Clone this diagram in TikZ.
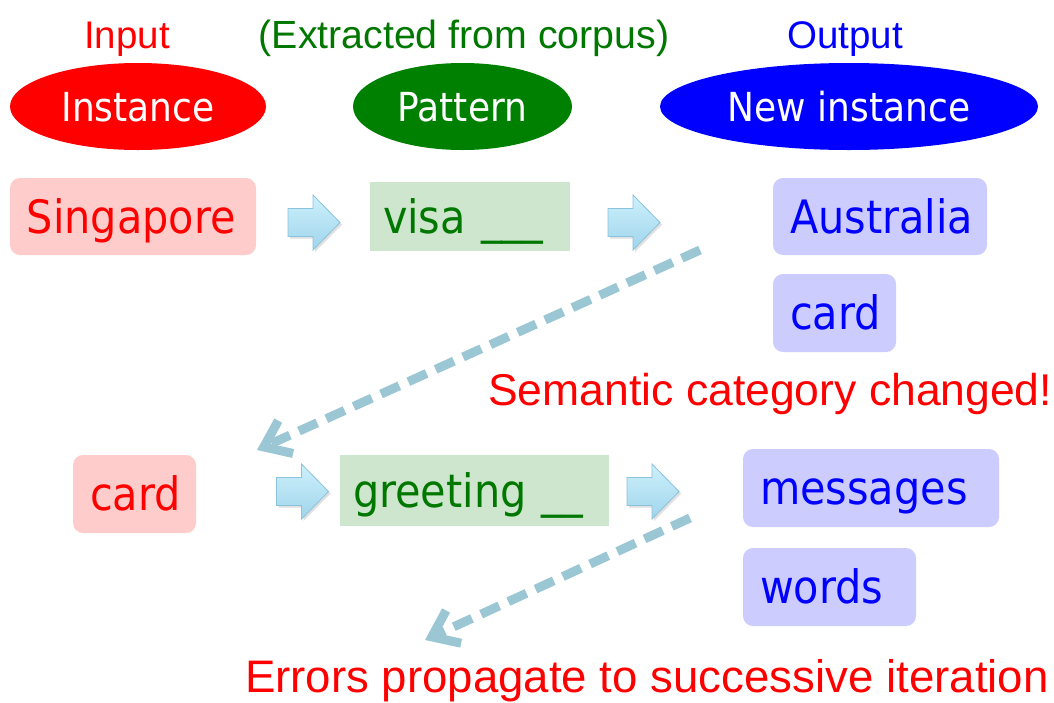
\documentclass[tikz,border=0pt]{standalone}
\usepackage{fontspec}
\setmainfont{Liberation Sans}
\newfontfamily\boxfont{DejaVu Sans Condensed}
\usetikzlibrary{shapes.geometric,arrows.meta,shadows}
\definecolor{pinkF}{RGB}{255,204,204}
\definecolor{lavF}{RGB}{204,204,255}
\definecolor{greenF}{RGB}{205,230,205}
\definecolor{dgreen}{RGB}{0,120,0}
\definecolor{egreen}{RGB}{0,128,0}
\definecolor{dashC}{RGB}{155,198,212}
\definecolor{arTop}{RGB}{205,240,252}
\definecolor{arBot}{RGB}{160,213,235}
\definecolor{arEdge}{RGB}{140,195,220}
\tikzset{
  toplbl/.style={font=\fontsize{38.5}{42}\selectfont, inner sep=0pt, anchor=base},
  ell/.style={ellipse, inner sep=0pt, text=white, minimum height=87pt,
    font=\boxfont\fontsize{40}{44}\selectfont, text height=35pt, text depth=6pt},
  box/.style={rounded corners=10pt, inner xsep=17pt, inner ysep=0pt, align=left,
    font=\boxfont\fontsize{46}{50}\selectfont, text height=41pt, text depth=8pt,
    minimum height=78pt},
  inst/.style={box, fill=pinkF, text=red},
  newi/.style={box, fill=lavF, text=blue},
  pat/.style={box, rounded corners=0pt, inner xsep=13pt, fill=greenF, text=dgreen, minimum height=70pt},
  redlbl/.style={text=red, font=\fontsize{44.5}{48}\selectfont, inner sep=0pt, anchor=base west},
  dasharr/.style={line width=9pt, draw=dashC, dash pattern=on 20pt off 10pt,
    -{Straight Barb[length=24pt,width=36pt]}},
  arrowfill/.style={top color=arTop, bottom color=arBot, draw=arEdge, line width=0.8pt,
    drop shadow={opacity=0.25, shadow xshift=2pt, shadow yshift=-2pt}},
  barrow/.pic={\path[arrowfill] (-26,-14) -- (-1,-14) -- (-1,-27.5) -- (26,0) -- (-1,27.5) -- (-1,14) -- (-26,14) -- cycle;}
}
\begin{document}
\begin{tikzpicture}[x=1pt,y=-1pt]
\useasboundingbox[fill=white] (0,0) rectangle (1054,702);

% top labels
\node[toplbl, text=red] (lin) at (127,48) {Input};
\node[toplbl, text=dgreen, font=\fontsize{39.3}{42}\selectfont] (lext) at (464,48) {(Extracted from corpus)};
\node[toplbl, text=blue] (lout) at (845,48) {Output};

% ellipses
\node[ell, fill=red, minimum width=256pt] (einst) at (138,106.5) {Instance};
\node[ell, fill=egreen, minimum width=219pt] (epat) at (462.5,106.5) {Pattern};
\node[ell, fill=blue, minimum width=378pt] (enew) at (849,106.5) {New instance};

% row 1
\node[inst, text width=212pt, minimum height=77pt] (sing) at (133,216.5) {Singapore};
\node[pat, text width=174pt, minimum height=69pt] (visa) at (470,216.5) {visa \_\_\_};
\node[newi, text width=180pt, minimum height=77pt] (aus) at (880,216.5) {Australia};
\node[newi, text width=89pt] (card1) at (834.5,313) {card};

\pic at (314,222.5) {barrow};
\pic at (634,222.5) {barrow};

% semantic label
\node[redlbl] (sem) at (488,405) {Semantic category changed!};

% row 2
\node[inst, text width=89pt] (card2) at (134.5,494) {card};
\node[pat, text width=243pt, minimum height=71pt] (greet) at (474.5,490.5) {greeting \_\_};
\node[newi, text width=222pt] (mess) at (871,488) {messages};
\node[newi, text width=139pt] (words) at (829.5,587) {words};

\pic at (302.5,491.5) {barrow};
\pic at (653,491.5) {barrow};

% dashed arrows
\coordinate (d1s) at (700,250);
\coordinate (d1e) at (257,450);
\draw[dasharr] (d1s) -- (d1e);
\coordinate (d2s) at (690,518);
\coordinate (d2e) at (425,640);
\draw[dasharr] (d2s) -- (d2e);

% errors label
\node[redlbl, font=\fontsize{45.6}{48}\selectfont] (err) at (245,692) {Errors propagate to successive iteration};
\end{tikzpicture}
\end{document}
